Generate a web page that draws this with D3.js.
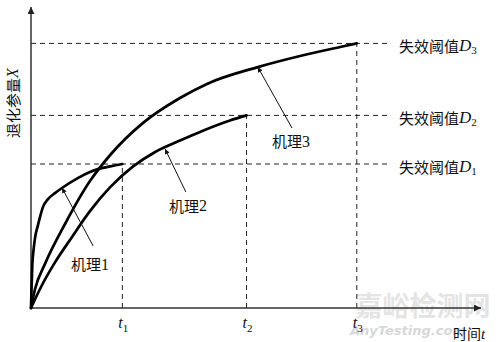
<!DOCTYPE html>
<html><head><meta charset="utf-8">
<script src="https://cdn.jsdelivr.net/npm/d3@7"></script>
<style>body{margin:0;background:#fff}svg{display:block}</style>
</head><body>
<svg id="c" width="500" height="342"></svg>
<script>
// ---- data (time units 0..100, degradation units 0..100) ----
const mech1 = [[0,0],[0.11,6],[0.29,14.3],[0.56,19.3],[0.89,23.3],[1.56,27.7],[2.0,30.3],[2.67,33.7],[3.78,36.3],[5.33,38.3],[6.89,40],[10.4,43.3],[13.1,45.3],[14.9,46.3],[17.6,47.2],[20.3,48]];
const mech2 = [[0,0],[2.22,7],[5.33,15.2],[8.89,23.2],[13.1,32.3],[17.6,40.3],[22.7,47.2],[27.6,52],[33.1,55.8],[38.2,59.1],[44.2,62.5],[47.9,64.2]];
const mech3 = [[0,0],[0.89,6.3],[3.11,14.7],[7.56,28],[13.1,42.3],[17.6,51],[24.9,61.7],[33.1,70],[39.1,74.7],[50.4,80.3],[59.8,84],[68.7,87],[72.4,88.2]];
const times = [20.3, 47.9, 72.4];
const timeSubs = ["1","2","3"];
const thresholds = [48, 64.2, 88.2];
const thresholdName = "失效阈值";
const mechNames = ["机理1","机理2","机理3"];
// annotation: [tipX, tipY, tailX, tailY, textX, textY]
const mechNotes = [[6.9,40,13.8,20.7,13.1,14.7],[29.8,53,34.4,38.7,34.9,34.3],[50.4,80.3,58,60,57.8,55.7]];
const yTitle = "退化参量";
const xTitle = "时间";

const svg = d3.select("#c");
const x = d3.scaleLinear().domain([0,100]).range([31,481]);
const y = d3.scaleLinear().domain([0,100]).range([308,8]);
const cjk = "'Noto Sans CJK SC','Noto Sans',sans-serif";
const serif = "'Liberation Serif','DejaVu Serif',serif";

// watermark
const wm = svg.append("g");
wm.append("text").attr("x",423).attr("y",316).attr("text-anchor","middle")
  .attr("font-family",cjk).attr("font-weight","bold").attr("font-size",27)
  .attr("fill","#e4e4e4").text("嘉峪检测网");
wm.append("text").attr("x",350).attr("y",335)
  .attr("font-family","'DejaVu Sans',sans-serif").attr("font-style","italic").attr("font-weight","bold").attr("font-size",13)
  .attr("fill","#d8d8d8").text("AnyTesting.com");

const defs = svg.append("defs");
defs.append("marker").attr("id","ah").attr("viewBox","0 0 10 10").attr("refX",10).attr("refY",5)
  .attr("markerWidth",10).attr("markerHeight",7).attr("markerUnits","userSpaceOnUse").attr("orient","auto")
  .append("path").attr("d","M0,0L10,5L0,10Z").attr("fill","#222");
defs.append("marker").attr("id","sa").attr("viewBox","0 0 10 10").attr("refX",10).attr("refY",5)
  .attr("markerWidth",8).attr("markerHeight",5).attr("markerUnits","userSpaceOnUse").attr("orient","auto")
  .append("path").attr("d","M0,0L10,5L0,10Z").attr("fill","#111");

// dashed thresholds
const dash = "5,4";
svg.selectAll(".th").data(thresholds).join("line")
  .attr("x1",x(0)).attr("x2",390).attr("y1",d=>y(d)).attr("y2",d=>y(d))
  .attr("stroke","#222").attr("stroke-width",1).attr("stroke-dasharray",dash);
svg.selectAll(".tv").data(times).join("line")
  .attr("x1",d=>x(d)).attr("x2",d=>x(d)).attr("y1",y(0)).attr("y2",(d,i)=>y(thresholds[i]))
  .attr("stroke","#222").attr("stroke-width",1).attr("stroke-dasharray",dash);

// axes
svg.append("line").attr("x1",x(0)).attr("y1",y(0)).attr("x2",x(100)).attr("y2",y(0))
  .attr("stroke","#333").attr("stroke-width",1.5).attr("marker-end","url(#ah)");
svg.append("line").attr("x1",x(0)).attr("y1",y(0)).attr("x2",x(0)).attr("y2",y(100)-1)
  .attr("stroke","#333").attr("stroke-width",1.5).attr("marker-end","url(#ah)");

// curves
const line = d3.line().x(d=>x(d[0])).y(d=>y(d[1])).curve(d3.curveMonotoneX);
[mech1,mech2,mech3].forEach(s=>{
  svg.append("path").attr("d",line(s)).attr("fill","none").attr("stroke","#000")
    .attr("stroke-width",2.7).attr("stroke-linecap","round").attr("stroke-linejoin","round");
});

// annotations
mechNotes.forEach((n,i)=>{
  svg.append("line").attr("x1",x(n[2])).attr("y1",y(n[3])).attr("x2",x(n[0])).attr("y2",y(n[1]))
    .attr("stroke","#111").attr("stroke-width",1).attr("marker-end","url(#sa)");
  svg.append("text").attr("x",x(n[4])).attr("y",y(n[5])).attr("text-anchor","middle")
    .attr("dominant-baseline","central").attr("font-family",cjk).attr("font-size",15).attr("fill","#111")
    .text(mechNames[i].slice(0,2))
    .append("tspan").attr("font-family",serif).attr("font-size",16).text(mechNames[i].slice(2));
});

// threshold labels
thresholds.forEach((d,i)=>{
  const t = svg.append("text").attr("x",399).attr("y",y(d)+2).attr("dominant-baseline","central")
    .attr("font-family",cjk).attr("font-size",15).attr("fill","#111").text(thresholdName);
  t.append("tspan").attr("font-family",serif).attr("font-style","italic").attr("font-size",17).text("D");
  t.append("tspan").attr("font-family",serif).attr("font-size",11).attr("dy",5).text(timeSubs[i]);
});

// time labels
times.forEach((d,i)=>{
  const t = svg.append("text").attr("x",x(d)-4).attr("y",328).attr("font-family",serif).attr("fill","#111");
  t.append("tspan").attr("font-style","italic").attr("font-size",16).text("t");
  t.append("tspan").attr("font-size",11).attr("dy",4).text(timeSubs[i]);
});
const xt = svg.append("text").attr("x",453).attr("y",339).attr("font-family",cjk).attr("font-size",14).attr("fill","#111").text(xTitle);
xt.append("tspan").attr("font-family",serif).attr("font-style","italic").attr("font-size",15).text("t");

const yt = svg.append("text").attr("transform","translate(12,103) rotate(-90)").attr("text-anchor","middle")
  .attr("dominant-baseline","central")
  .attr("font-family",cjk).attr("font-size",15).attr("fill","#111").text(yTitle);
yt.append("tspan").attr("font-family",serif).attr("font-style","italic").attr("font-size",16).text("X");
</script>
</body></html>
